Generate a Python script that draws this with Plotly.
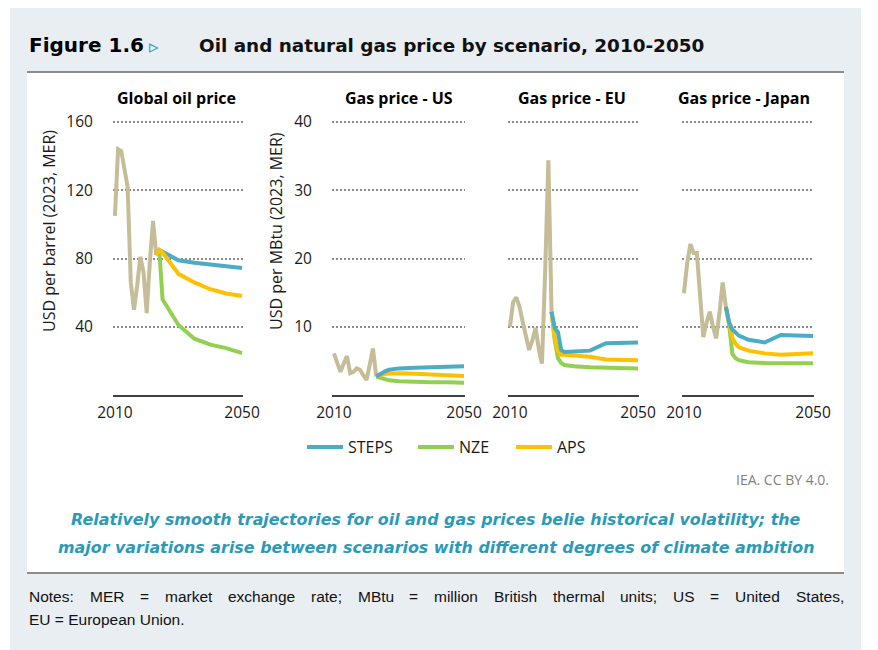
import plotly.graph_objects as go

W, H = 878, 650
OX, OY = 8, 8  # page body margin compensation

# ---------------- data ----------------
hist_years = [2010, 2011, 2012, 2013, 2014, 2015, 2016, 2017, 2018, 2019, 2020, 2021, 2022, 2023]
oil_hist = [105, 144, 143, 133, 122, 66, 50, 64, 81, 72, 48, 78, 102, 82]
us_hist = [6.1, 4.8, 3.4, 4.6, 5.7, 3.2, 3.4, 3.9, 3.7, 2.9, 2.2, 4.4, 6.8, 2.7]
eu_hist = [10.0, 13.6, 14.3, 12.9, 10.7, 8.5, 6.6, 8.0, 9.8, 6.8, 4.6, 18.0, 34.4, 12.2]
jp_hist = [14.9, 19.3, 22.1, 20.8, 20.8, 13.7, 8.5, 10.6, 12.2, 10.0, 8.3, 12.0, 16.5, 12.9]

oil_years = [2023, 2024, 2025, 2030, 2035, 2040, 2045, 2050]
oil_steps = [82, 85, 84, 79, 77.5, 76.5, 75.5, 74.5]
oil_nze = [82, 84, 56, 41, 33, 29.5, 27.5, 24.5]
oil_aps = [82, 85, 83.5, 71, 66, 62, 59.5, 58]

gas_years = [2023, 2024, 2025, 2026, 2027, 2030, 2035, 2040, 2045, 2050]
us_steps = [2.7, 3.0, 3.3, 3.55, 3.7, 3.9, 4.0, 4.05, 4.1, 4.2]
us_nze = [2.7, 2.6, 2.4, 2.25, 2.15, 2.0, 1.9, 1.85, 1.85, 1.8]
us_aps = [2.7, 2.9, 3.0, 3.1, 3.15, 3.2, 3.1, 3.0, 2.9, 2.8]
eu_steps = [12.2, 9.8, 9.2, 6.6, 6.3, 6.4, 6.5, 7.6, 7.6, 7.7]
eu_nze = [12.2, 8.0, 5.4, 4.7, 4.4, 4.2, 4.05, 4.0, 3.95, 3.9]
eu_aps = [12.2, 8.3, 6.4, 5.9, 5.9, 5.8, 5.6, 5.2, 5.1, 5.1]
jp_steps = [12.9, 10.6, 9.6, 9.1, 8.7, 8.1, 7.7, 8.8, 8.7, 8.65]
jp_nze = [12.9, 10.3, 6.0, 5.4, 5.1, 4.8, 4.7, 4.65, 4.65, 4.65]
jp_aps = [12.9, 10.4, 8.4, 7.5, 7.0, 6.5, 6.1, 5.9, 6.0, 6.1]

panel_titles = ["Global oil price", "Gas price - US", "Gas price - EU", "Gas price - Japan"]
x_ticks = [2010, 2050]
oil_ticks = [40, 80, 120, 160]
gas_ticks = [10, 20, 30, 40]
scenario_names = ["STEPS", "NZE", "APS"]

note_line1 = ["Notes:", "MER", "=", "market", "exchange", "rate;", "MBtu", "=", "million",
              "British", "thermal", "units;", "US", "=", "United", "States,"]
note_line2 = "EU = European Union."

# ---------------- style ----------------
COL = {"hist": "#C4BD97", "STEPS": "#4BACC6", "NZE": "#92D050", "APS": "#FFC000"}
TEAL = "#2C9AB7"
FONT = "Open Sans"


def px(x):
    return (x - OX) / W


def py(y):
    return 1 - (y - OY) / H


panels = [
    dict(hist=oil_hist, years=oil_years,
         scen={"STEPS": oil_steps, "NZE": oil_nze, "APS": oil_aps},
         order=["STEPS", "NZE", "APS"], xdom=(113, 243), yr=[0, 162], ticks=oil_ticks,
         labels=True, tcx=176),
    dict(hist=us_hist, years=gas_years,
         scen={"STEPS": us_steps, "NZE": us_nze, "APS": us_aps},
         order=["NZE", "APS", "STEPS"], xdom=(332, 465), yr=[0, 40.5], ticks=gas_ticks,
         labels=True, tcx=399),
    dict(hist=eu_hist, years=gas_years,
         scen={"STEPS": eu_steps, "NZE": eu_nze, "APS": eu_aps},
         order=["NZE", "APS", "STEPS"], xdom=(508, 639), yr=[0, 40.5], ticks=gas_ticks,
         labels=False, tcx=572),
    dict(hist=jp_hist, years=gas_years,
         scen={"STEPS": jp_steps, "NZE": jp_nze, "APS": jp_aps},
         order=["NZE", "APS", "STEPS"], xdom=(682, 814), yr=[0, 40.5], ticks=gas_ticks,
         labels=False, tcx=744),
]

legend_ids = {"STEPS": "legend", "NZE": "legend2", "APS": "legend3"}
legend_left = {"STEPS": 302, "NZE": 413, "APS": 511}

fig = go.Figure()
layout_axes = {}
for i, p in enumerate(panels, start=1):
    xa = "x" if i == 1 else f"x{i}"
    ya = "y" if i == 1 else f"y{i}"
    fig.add_trace(go.Scatter(x=hist_years, y=p["hist"], mode="lines", xaxis=xa, yaxis=ya,
                             line=dict(color=COL["hist"], width=4), showlegend=False,
                             hoverinfo="skip"))
    for name in p["order"]:
        fig.add_trace(go.Scatter(x=p["years"], y=p["scen"][name], mode="lines", name=name,
                                 xaxis=xa, yaxis=ya, line=dict(color=COL[name], width=4),
                                 showlegend=(i == 1), legend=legend_ids[name],
                                 hoverinfo="skip"))
    kx = "xaxis" if i == 1 else f"xaxis{i}"
    ky = "yaxis" if i == 1 else f"yaxis{i}"
    layout_axes[kx] = dict(domain=[px(p["xdom"][0]), px(p["xdom"][1])], range=[2009.4, 2050.3],
                           anchor=ya, tickvals=x_ticks, showgrid=False, zeroline=False,
                           showline=True, linecolor="#404040", linewidth=2, automargin=False,
                           ticks="outside", ticklen=2, tickcolor="rgba(0,0,0,0)",
                           tickfont=dict(family=FONT, size=15.5, color="#1a1a1a"))
    layout_axes[ky] = dict(domain=[py(395), py(118.6)], range=p["yr"], anchor=xa,
                           tickvals=p["ticks"], showgrid=True, gridcolor="#8c8c8c",
                           griddash="2px,2px", gridwidth=1.5, zeroline=False, showline=False,
                           showticklabels=p["labels"], ticks="outside", ticklen=16,
                           tickcolor="rgba(0,0,0,0)", automargin=False,
                           tickfont=dict(family=FONT, size=15.5, color="#1a1a1a"))

legends = {}
for name in scenario_names:
    legends[legend_ids[name]] = dict(
        orientation="h", x=px(legend_left[name]), xanchor="left", y=py(447), yanchor="middle",
        bgcolor="rgba(0,0,0,0)", borderwidth=0, itemwidth=36,
        font=dict(family=FONT, size=16, color="#1a1a1a"))

annotations = []


def text(x, y, s, size, color="#1a1a1a", family=FONT, xanchor="left", bold=False,
         italic=False, angle=0):
    t = s
    if bold:
        t = f"<b>{t}</b>"
    if italic:
        t = f"<i>{t}</i>"
    annotations.append(dict(x=px(x), y=py(y), xref="paper", yref="paper", text=t,
                            showarrow=False, xanchor=xanchor, yanchor="middle",
                            textangle=angle, borderpad=0,
                            font=dict(family=family, size=size, color=color)))


# header
text(28, 45, "Figure 1.6", 20, color="#000000", family="DejaVu Sans", bold=True)
text(148, 46, "▹", 19, color=TEAL, family="DejaVu Sans")
text(198, 45, "Oil and natural gas price by scenario, 2010-2050", 18.4, color="#111111",
     family="DejaVu Sans", bold=True)

# panel titles
for p, t in zip(panels, panel_titles):
    text(p["tcx"], 98, t, 16, color="#000000", xanchor="center", bold=True)

# y titles
text(49, 231, "USD per barrel (2023, MER)", 16, xanchor="center", angle=-90)
text(276, 231, "USD per MBtu (2023, MER)", 16, xanchor="center", angle=-90)

# source
text(830, 479, "IEA. CC BY 4.0.", 14, color="#7f7f7f", xanchor="right")

# caption
text(436, 519, "Relatively smooth trajectories for oil and gas prices belie historical volatility; the",
     15.9, color=TEAL, family="DejaVu Sans", xanchor="center", bold=True, italic=True)
text(436, 547, "major variations arise between scenarios with different degrees of climate ambition",
     15.9, color=TEAL, family="DejaVu Sans", xanchor="center", bold=True, italic=True)

# notes: justified first line (word widths from Arial/Liberation Sans metrics)
ARIAL = {"N": 722, "o": 556, "t": 278, "e": 556, "s": 500, ":": 278, "M": 833, "E": 667,
         "R": 722, "=": 584, "m": 833, "a": 556, "r": 333, "k": 500, "x": 500, "c": 500,
         "h": 556, "n": 556, "g": 556, ";": 278, "B": 667, "u": 556, "i": 222, "l": 222,
         "b": 556, "S": 667, "U": 722, "d": 556, ",": 278}
NOTE_SIZE = 15.5
word_w = [sum(ARIAL[c] for c in w_) / 1000 * NOTE_SIZE for w_ in note_line1]
left, right = 28, 843
gap = (right - left - sum(word_w)) / (len(note_line1) - 1)
xpos = left
for w_, ww in zip(note_line1, word_w):
    text(xpos, 596, w_, NOTE_SIZE, color="#111111", family="Liberation Sans")
    xpos += ww + gap
text(28, 619, note_line2, NOTE_SIZE, color="#111111", family="Liberation Sans")

shapes = [
    dict(type="rect", xref="paper", yref="paper", x0=px(10), x1=px(861), y0=py(660), y1=py(-10),
         fillcolor="#E9EEF3", line=dict(width=0), layer="below"),
    dict(type="rect", xref="paper", yref="paper", x0=px(27), x1=px(844), y0=py(573), y1=py(72),
         fillcolor="#FFFFFF", line=dict(width=0), layer="below"),
    dict(type="line", xref="paper", yref="paper", x0=px(27), x1=px(844), y0=py(72), y1=py(72),
         line=dict(color="#8C8C8C", width=2), layer="below"),
    dict(type="line", xref="paper", yref="paper", x0=px(27), x1=px(844), y0=py(573), y1=py(573),
         line=dict(color="#8C8C8C", width=2), layer="below"),
]

fig.update_layout(
    template="none",
    width=W, height=H, autosize=False,
    margin=dict(l=0, r=0, t=0, b=0, pad=0, autoexpand=False),
    paper_bgcolor="#FFFFFF", plot_bgcolor="rgba(0,0,0,0)",
    font=dict(family=FONT, color="#1a1a1a"),
    showlegend=True,
    annotations=annotations,
    shapes=shapes,
    **legends,
    **layout_axes,
)

fig.write_html("out.html")
